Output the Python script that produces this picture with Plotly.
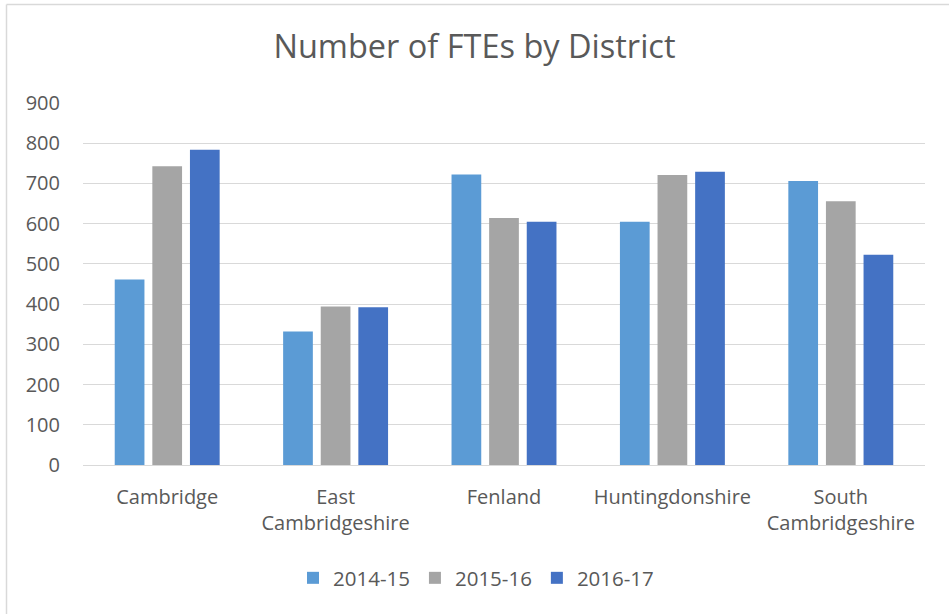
import plotly.graph_objects as go

districts = ["Cambridge", "East<br>Cambridgeshire", "Fenland", "Huntingdonshire", "South<br>Cambridgeshire"]
series_names = ["2014-15", "2015-16", "2016-17"]
fte_2014_15 = [461, 332, 722, 605, 706]
fte_2015_16 = [743, 394, 614, 721, 656]
fte_2016_17 = [784, 392, 605, 729, 523]
colors = ["#5B9BD5", "#A5A5A5", "#4472C4"]
y_ticks = [0, 100, 200, 300, 400, 500, 600, 700, 800, 900]

FONT = "'Open Sans', sans-serif"
TXT = "#595959"

fig = go.Figure()
for name, vals, col in zip(series_names, [fte_2014_15, fte_2015_16, fte_2016_17], colors):
    fig.add_trace(go.Bar(x=districts, y=vals, name=name, marker=dict(color=col, line=dict(width=0))))

L, R, T, B = 83, 24, 103, 149
W, H = 949, 614
pw, ph = W - L - R, H - T - B

def px_x(x):
    return (x - L) / pw

def px_y(y):
    return (H - B - y) / ph

fig.update_layout(
    width=W, height=H,
    margin=dict(l=L, r=R, t=T, b=B, autoexpand=False),
    paper_bgcolor="white", plot_bgcolor="white",
    barmode="group", bargap=0.33, bargroupgap=0.21,
    font=dict(family=FONT, color=TXT, size=20),
    title=dict(text="Number of FTEs by District", x=0.5, xanchor="center",
               y=1 - 47 / H, yanchor="middle",
               font=dict(family=FONT, size=32.5, color=TXT)),
    legend=dict(orientation="h", x=px_x(487 - 11), xanchor="center", y=px_y(578), yanchor="middle",
                font=dict(family=FONT, size=20.5, color=TXT), itemsizing="constant",
                traceorder="normal"),
    xaxis=dict(showgrid=False, showline=False, ticks="", ticklabelstandoff=18,
               tickfont=dict(size=20, color=TXT)),
    yaxis=dict(range=[0, 900], tickvals=y_ticks, showgrid=True, gridcolor="#D9D9D9", gridwidth=1.3,
               zeroline=True, zerolinecolor="#D9D9D9", zerolinewidth=1.3,
               showline=False, ticks="", ticklabelstandoff=22, tickfont=dict(size=20, color=TXT)),
    shapes=[
        dict(type="line", xref="paper", yref="paper", x0=px_x(6.5), x1=px_x(949), y0=px_y(4.5), y1=px_y(4.5),
             line=dict(color="#D9D9D9", width=1.5)),
        dict(type="line", xref="paper", yref="paper", x0=px_x(6.5), x1=px_x(6.5), y0=px_y(4.5), y1=px_y(614),
             line=dict(color="#D9D9D9", width=1.5)),
    ],
)

fig.write_html("out.html", config={"displayModeBar": False},
               post_script="document.body.style.margin='0';document.body.style.padding='0';")
